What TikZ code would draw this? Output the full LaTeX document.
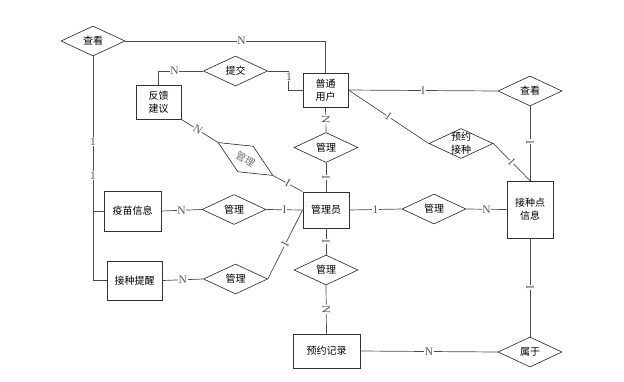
\documentclass[tikz,border=0pt]{standalone}
\usepackage{fontspec}
\setmainfont{Liberation Serif}
\newfontfamily\cjk{Noto Sans CJK SC}
\usetikzlibrary{shapes.geometric}
\tikzset{
  ent/.style={draw=black!80, line width=0.9pt, fill=white, inner sep=0pt, font=\cjk\fontsize{10}{13}\selectfont, align=center},
  dia/.style={draw=black!85, line width=0.6pt, diamond, minimum width=64pt, minimum height=30pt, inner sep=0pt, fill=white},
  ttxt/.style={font=\cjk\fontsize{10}{13}\selectfont, align=center, inner sep=0pt},
  conn/.style={draw=black!70, line width=0.7pt},
  lab/.style={font=\fontsize{11.5}{11.5}\selectfont, text=black!65, fill=white, inner sep=0.6pt},
}
\begin{document}
\begin{tikzpicture}[x=1pt,y=-1pt]
\useasboundingbox (0,0) rectangle (624,381);
% entities
\node[ent, minimum width=45pt, minimum height=34pt] (ptyh) at (325.5,90) {普通\\用户};
\node[ent, minimum width=45pt, minimum height=34pt] (fkjy) at (158.5,102) {反馈\\建议};
\node[ent, minimum width=46pt, minimum height=36pt] (glr) at (326,210) {管理员};
\node[ent, minimum width=46pt, minimum height=57pt] (jzd) at (530,209.5) {接种点\\信息};
\node[ent, minimum width=57pt, minimum height=40pt] (ymxx) at (132.5,211) {疫苗信息};
\node[ent, minimum width=55pt, minimum height=39pt] (jztx) at (134.5,280.5) {接种提醒};
\node[ent, minimum width=67pt, minimum height=34pt] (yyjl) at (326.5,351) {预约记录};
% relationships
\node[dia] (ck1) at (93,41) {}; \node[ttxt] (ck1t) at (ck1) {查看};
\node[dia] (tj) at (235.5,71) {}; \node[ttxt] (tjt) at (tj) {提交};
\node[dia] (ck2) at (530,91) {}; \node[ttxt] (ck2t) at (ck2) {查看};
\node[dia] (yyjz) at (461,143.5) {}; \node[ttxt] (yyjzt) at (yyjz) {预约\\接种};
\node[dia] (gl1) at (326,147.5) {}; \node[ttxt] (gl1t) at (gl1) {管理};
\node[dia, rotate=-31] (gl0) at (245.5,159) {}; \node[ttxt, rotate=-31, text=black!55] (gl0t) at (gl0) {管理};
\node[dia] (gl2) at (434,209) {}; \node[ttxt] (gl2t) at (gl2) {管理};
\node[dia] (gl3) at (234,209.5) {}; \node[ttxt] (gl3t) at (gl3) {管理};
\node[dia] (gl4) at (235.5,279) {}; \node[ttxt] (gl4t) at (gl4) {管理};
\node[dia] (gl5) at (326,270) {}; \node[ttxt] (gl5t) at (gl5) {管理};
\node[dia] (sy) at (530,352) {}; \node[ttxt] (syt) at (sy) {属于};
% connectors
\draw[conn] (ck1.east) -| node[lab, pos=0.29] (l1) {N} (ptyh.north);
\draw[conn] (fkjy.north) |- node[lab, pos=0.68] (l2) {N} (tj.west);
\draw[conn] (tj.east) -- ++(21,0) coordinate (c1) |- (ptyh.west);
\node[lab] (l3) at (289,76.5) {1};
\draw[conn] (ptyh.east) -- node[lab] (l4) {I} (ck2.west);
\draw[conn] (ptyh.east) -- node[lab, sloped] (l5) {I} (yyjz.west);
\draw[conn] (yyjz.east) -- node[lab, sloped] (l6) {I} (jzd.north);
\draw[conn] (ck2.south) -- node[lab, sloped, pos=0.48] (l7) {I} (jzd.north);
\draw[conn] (ptyh.south) -- node[lab, sloped] (l8) {N} (gl1.north);
\draw[conn] (gl1.south) -- node[lab, sloped] (l9) {I} (glr.north);
\draw[conn] (fkjy.south east) -- node[lab, sloped, pos=0.45] (l10) {N} (gl0.west);
\draw[conn] (gl0.east) -- node[lab, sloped] (l11) {I} (glr.north west);
\draw[conn] (ymxx.east) -- node[lab] (l12) {N} (gl3.west);
\draw[conn] (gl3.east) -- node[lab] (l13) {I} (glr.west);
\draw[conn] (jztx.east) -- node[lab] (l14) {N} (gl4.west);
\draw[conn] (gl4.east) -- node[lab, sloped] (l15) {I} (glr.west);
\draw[conn] (glr.east) -- node[lab] (l16) {1} (gl2.west);
\draw[conn] (gl2.east) -- node[lab] (l17) {N} (jzd.west);
\draw[conn] (glr.south) -- node[lab, sloped] (l18) {I} (gl5.north);
\draw[conn] (gl5.south) -- node[lab, sloped] (l19) {N} (yyjl.north);
\draw[conn] (yyjl.east) -- node[lab] (l20) {N} (sy.west);
\draw[conn] (jzd.south) -- node[lab, sloped] (l21) {I} (sy.north);
\draw[conn] (ck1.south) |- node[lab, pos=0.19] (l22) {1} node[lab, pos=0.266] (l23) {1} (jztx.west);
\draw[conn] (ymxx.west) -- (ymxx.west -| ck1.south);
\end{tikzpicture}
\end{document}
